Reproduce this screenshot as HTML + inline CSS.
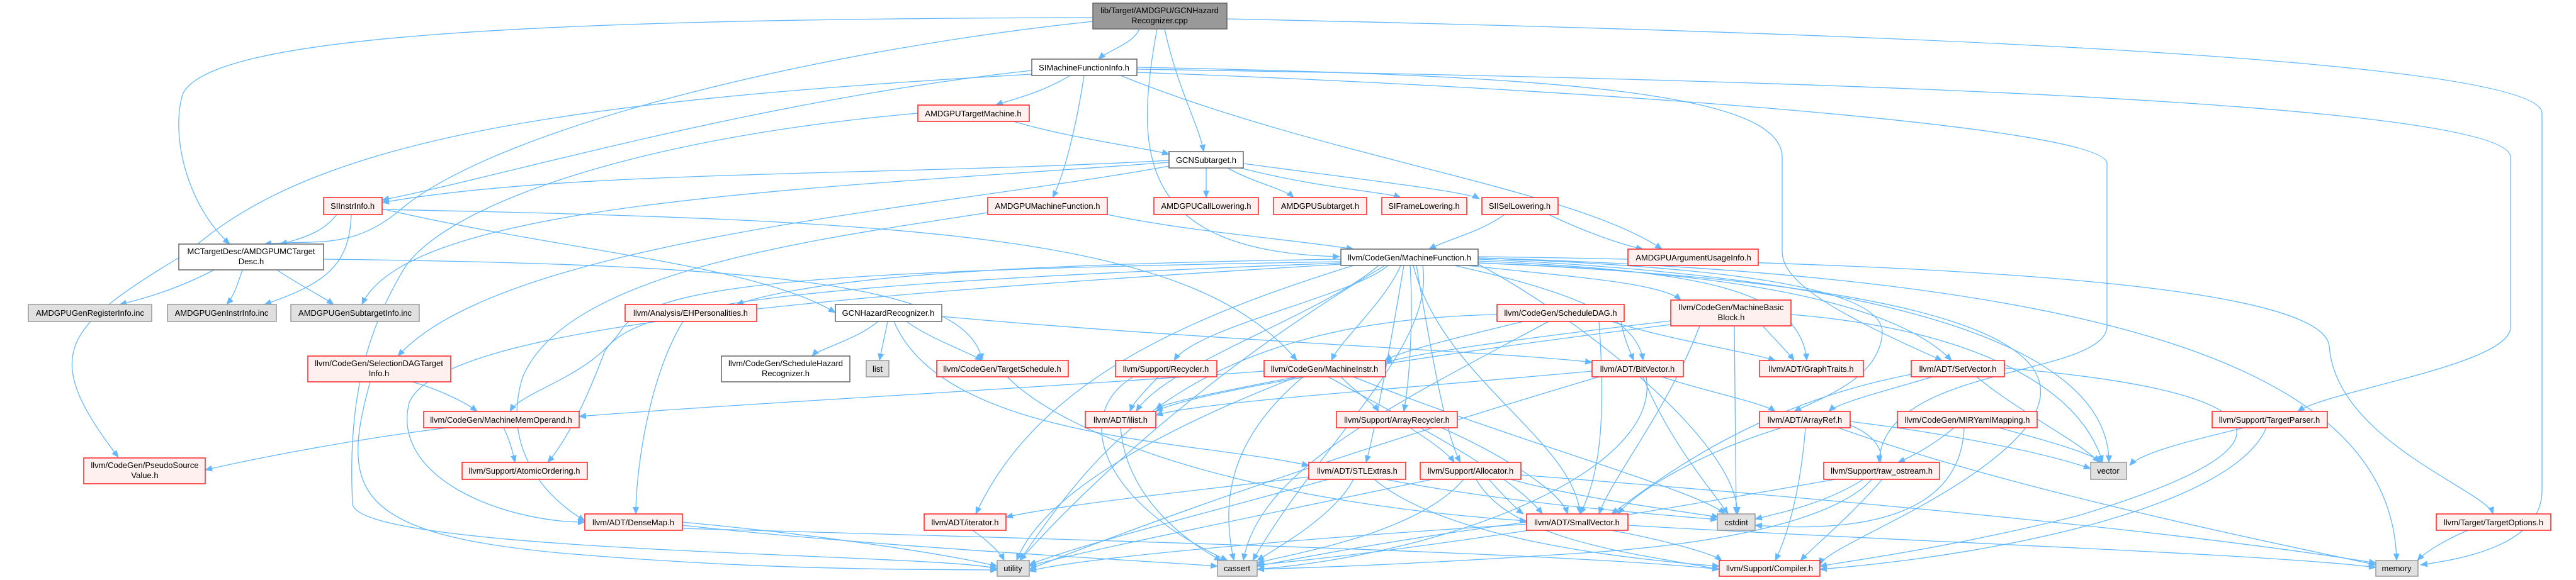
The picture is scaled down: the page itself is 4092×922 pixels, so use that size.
<!DOCTYPE html>
<html><head><meta charset="utf-8"><style>
html,body{margin:0;padding:0;background:#fff;}
svg{display:block}
text{font-family:"Liberation Sans",sans-serif;font-size:13px;fill:#000;text-anchor:middle}
.e{fill:none;stroke:#63b8ff;stroke-width:1.3;marker-end:url(#a)}
.r{fill:#fff0f0;stroke:#ff2020;stroke-width:1.5}
.g{fill:#e0e0e0;stroke:#999;stroke-width:1.5}
.w{fill:#fff;stroke:#666;stroke-width:1.5}
.k{fill:#999;stroke:#666;stroke-width:1.5}
</style></head><body>
<svg width="4092" height="922" viewBox="0 0 4092 922" xmlns="http://www.w3.org/2000/svg">
<defs><marker id="a" markerUnits="userSpaceOnUse" markerWidth="12" markerHeight="10" refX="11" refY="5" orient="auto"><path d="M0,0 L12,5 L0,10 z" fill="#63b8ff"/></marker></defs>
<g>
<path class="e" d="M1810,46 C1800,70 1760,80 1745,94"/>
<path class="e" d="M1850,46 C1870,140 1905,200 1912,241"/>
<path class="e" d="M1838,46 C1800,250 1810,400 2128,408"/>
<path class="e" d="M1736,28 C800,30 330,60 290,150 C270,220 300,330 365,388"/>
<path class="e" d="M1736,34 C1300,80 800,200 640,330 C560,400 500,380 420,388"/>
<path class="e" d="M1949,30 C2900,50 4038,90 4038,180 L4038,780 C4038,870 3900,890 3845,898"/>
<path class="e" d="M1806,110 C2800,125 3988,160 3988,250 L3988,520 C3988,580 3700,620 3650,654"/>
<path class="e" d="M1806,115 C2500,140 3347,200 3347,260 L3347,520 C3340,600 2990,580 2985,735"/>
<path class="e" d="M1806,107 C2500,120 2831,150 2831,250 L2831,400 C2831,450 2920,500 3085,573"/>
<path class="e" d="M1700,120 C1650,150 1600,160 1582,167"/>
<path class="e" d="M1722,120 C1710,200 1690,280 1672,314"/>
<path class="e" d="M1780,120 C2100,250 2500,300 2640,396"/>
<path class="e" d="M1639,112 C1200,160 800,280 607,318"/>
<path class="e" d="M1639,118 C900,160 500,220 300,400 C100,520 60,560 188,727"/>
<path class="e" d="M1916,267 L1916,314"/>
<path class="e" d="M1950,267 C1990,290 2040,300 2055,314"/>
<path class="e" d="M1970,267 C2100,300 2200,305 2225,314"/>
<path class="e" d="M1975,260 C2200,290 2330,305 2350,316"/>
<path class="e" d="M1857,255 C1400,280 900,270 607,322"/>
<path class="e" d="M1857,264 C1500,330 800,380 632,566"/>
<path class="e" d="M1857,258 C1300,300 650,320 575,484"/>
<path class="e" d="M1610,193 C1700,220 1820,235 1857,245"/>
<path class="e" d="M1458,180 C1000,220 700,330 640,430 C600,500 550,600 560,800 C560,880 1500,880 1584,904"/>
<path class="e" d="M1759,341 C1900,370 2050,380 2150,396"/>
<path class="e" d="M1569,338 C1300,380 900,430 830,600 C800,700 850,780 929,828"/>
<path class="e" d="M2390,341 C2350,370 2300,380 2270,396"/>
<path class="e" d="M2460,341 C2520,370 2580,390 2610,396"/>
<path class="e" d="M535,341 C520,360 500,375 445,388"/>
<path class="e" d="M558,341 C555,420 520,450 420,484"/>
<path class="e" d="M607,332 C900,400 1200,420 1327,497"/>
<path class="e" d="M607,333 C1500,350 1900,380 2060,573"/>
<path class="e" d="M340,429 C300,450 250,470 190,484"/>
<path class="e" d="M385,429 C378,450 372,470 360,484"/>
<path class="e" d="M440,429 C470,450 510,470 530,484"/>
<path class="e" d="M514,412 C1200,420 1540,450 1560,573"/>
<path class="e" d="M2130,412 C1600,420 1300,440 1170,484"/>
<path class="e" d="M2130,416 C1300,430 1050,450 990,520 C940,600 830,620 810,654"/>
<path class="e" d="M2130,418 C1300,450 1000,480 960,560 C930,640 900,700 870,735"/>
<path class="e" d="M2130,420 C1300,470 700,520 650,640 C620,760 800,830 929,830"/>
<path class="e" d="M2190,422 C2100,500 1850,580 1805,654"/>
<path class="e" d="M2205,422 C2150,470 1900,520 1865,573"/>
<path class="e" d="M2225,422 C2200,480 2130,540 2115,573"/>
<path class="e" d="M2240,422 C2245,500 2240,600 2230,654"/>
<path class="e" d="M2310,422 C2480,460 2600,500 2610,573"/>
<path class="e" d="M2330,422 C2500,440 2640,450 2670,477"/>
<path class="e" d="M2348,415 C2700,430 2860,460 2870,573"/>
<path class="e" d="M2348,418 C2700,430 3000,470 3100,573"/>
<path class="e" d="M2348,410 C2600,420 2995,440 2990,530 C2985,600 2900,630 2850,654"/>
<path class="e" d="M2245,422 C2290,600 2500,700 2510,817"/>
<path class="e" d="M2348,420 C2500,500 2760,700 2760,817"/>
<path class="e" d="M2348,412 C3000,440 3350,550 3350,735"/>
<path class="e" d="M2348,410 C3400,440 3800,600 3807,891"/>
<path class="e" d="M2348,408 C3300,420 3690,470 3700,550 C3710,700 3950,780 3960,817"/>
<path class="e" d="M2348,418 C3100,450 3350,550 3200,700 C3100,800 2900,870 2891,898"/>
<path class="e" d="M2260,422 C2280,550 2100,700 1990,891"/>
<path class="e" d="M2200,422 C1900,600 1700,800 1620,891"/>
<path class="e" d="M2230,422 C2200,600 2180,700 2170,735"/>
<path class="e" d="M2250,422 C2280,600 2300,700 2320,735"/>
<path class="e" d="M2150,422 C1900,500 1650,600 1550,817"/>
<path class="e" d="M1395,511 C1360,540 1300,555 1290,566"/>
<path class="e" d="M1410,511 L1397,573"/>
<path class="e" d="M1440,511 C1480,540 1540,560 1560,573"/>
<path class="e" d="M1496,503 C1900,540 2400,560 2529,576"/>
<path class="e" d="M1420,511 C1500,700 1900,700 2079,740"/>
<path class="e" d="M1085,511 C1030,600 1010,750 1010,817"/>
<path class="e" d="M655,607 C700,620 740,640 758,654"/>
<path class="e" d="M588,607 C540,780 560,850 900,880 C1200,905 1400,905 1584,906"/>
<path class="e" d="M710,680 C550,700 400,730 326,747"/>
<path class="e" d="M800,680 C810,700 815,720 818,735"/>
<path class="e" d="M2420,511 C2300,540 2220,560 2200,573"/>
<path class="e" d="M2575,511 C2580,540 2590,560 2595,573"/>
<path class="e" d="M2540,511 C2550,650 2545,750 2510,817"/>
<path class="e" d="M2378,500 C1900,510 1750,700 1620,891"/>
<path class="e" d="M2560,511 C2650,540 2780,560 2820,573"/>
<path class="e" d="M2460,511 C2200,650 2000,750 1975,891"/>
<path class="e" d="M2654,510 C2400,540 2260,560 2200,576"/>
<path class="e" d="M2800,518 C2820,540 2840,560 2850,573"/>
<path class="e" d="M2654,516 C2300,560 1900,620 1836,654"/>
<path class="e" d="M2700,518 C2650,650 2560,760 2540,817"/>
<path class="e" d="M2755,518 L2758,817"/>
<path class="e" d="M2845,500 C3100,520 3300,600 3340,735"/>
<path class="e" d="M1600,599 C1700,700 2000,800 2425,828"/>
<path class="e" d="M1840,599 C1820,620 1800,640 1795,654"/>
<path class="e" d="M1800,599 C1700,660 1750,800 1950,891"/>
<path class="e" d="M2060,599 C1950,620 1850,640 1836,650"/>
<path class="e" d="M2130,599 C2150,620 2180,640 2190,654"/>
<path class="e" d="M2070,599 C1950,700 1940,800 1960,891"/>
<path class="e" d="M2060,599 C1800,700 1650,800 1615,891"/>
<path class="e" d="M2150,599 C2400,700 2700,780 2740,817"/>
<path class="e" d="M2110,599 C2200,650 2400,750 2450,817"/>
<path class="e" d="M2008,590 C1600,620 1200,640 920,662"/>
<path class="e" d="M2529,590 C2200,620 1900,640 1836,660"/>
<path class="e" d="M2610,599 C2650,700 2720,780 2745,817"/>
<path class="e" d="M2640,599 C2700,620 2800,640 2820,654"/>
<path class="e" d="M2540,599 C2200,700 1900,800 1635,905"/>
<path class="e" d="M2615,599 C2640,750 2300,880 1997,905"/>
<path class="e" d="M3070,599 C3000,620 2920,640 2905,654"/>
<path class="e" d="M3140,599 C3200,650 3300,700 3335,735"/>
<path class="e" d="M3184,585 C3600,620 3700,700 3300,820 C3100,870 2950,890 2891,900"/>
<path class="e" d="M3036,595 C2800,640 2650,750 2560,817"/>
<path class="e" d="M1780,680 C1790,800 1900,870 1940,891"/>
<path class="e" d="M2240,680 C2270,700 2300,720 2310,735"/>
<path class="e" d="M2290,680 C2380,720 2480,780 2490,817"/>
<path class="e" d="M2830,680 C2700,720 2600,780 2570,817"/>
<path class="e" d="M2868,680 C2860,780 2840,850 2820,891"/>
<path class="e" d="M2920,680 C3200,780 3600,860 3774,898"/>
<path class="e" d="M2939,670 C3100,690 3250,720 3321,745"/>
<path class="e" d="M2939,676 C3050,720 3000,850 2500,880 C2200,900 2050,903 1997,905"/>
<path class="e" d="M3104,680 C3080,700 3050,720 3015,735"/>
<path class="e" d="M3175,680 C3250,700 3320,720 3340,735"/>
<path class="e" d="M3120,680 C3115,800 3000,850 2788,835"/>
<path class="e" d="M3565,680 C3480,700 3400,720 3383,740"/>
<path class="e" d="M3600,680 C3550,800 3200,880 2891,905"/>
<path class="e" d="M2079,758 C1900,780 1700,800 1598,822"/>
<path class="e" d="M2110,762 C1900,820 1700,870 1635,898"/>
<path class="e" d="M2150,762 C2120,820 2030,870 1997,891"/>
<path class="e" d="M2200,762 C2400,800 2600,815 2728,826"/>
<path class="e" d="M2183,762 C2300,860 2600,890 2731,900"/>
<path class="e" d="M2365,762 C2390,790 2410,810 2420,817"/>
<path class="e" d="M2325,762 C2250,850 2050,880 1997,895"/>
<path class="e" d="M2275,762 C2000,820 1700,880 1635,900"/>
<path class="e" d="M2400,762 C2500,790 2650,810 2730,822"/>
<path class="e" d="M2345,762 C2400,860 2600,880 2731,905"/>
<path class="e" d="M2416,755 C3000,800 3500,850 3774,895"/>
<path class="e" d="M2915,762 C2700,800 2300,870 1997,898"/>
<path class="e" d="M2960,762 C2900,800 2830,815 2788,825"/>
<path class="e" d="M2990,762 C2940,820 2880,870 2860,891"/>
<path class="e" d="M1084,830 C1300,850 1500,880 1584,900"/>
<path class="e" d="M1084,835 C1400,870 1800,890 1934,900"/>
<path class="e" d="M1084,840 C1800,860 2500,880 2731,905"/>
<path class="e" d="M1545,843 C1570,860 1590,880 1595,891"/>
<path class="e" d="M2425,830 C2200,860 2050,890 1997,900"/>
<path class="e" d="M2430,833 C2000,860 1700,890 1635,908"/>
<path class="e" d="M2560,843 C2650,860 2720,880 2735,891"/>
<path class="e" d="M2586,835 C3000,860 3600,880 3774,902"/>
<path class="e" d="M3920,843 C3880,860 3850,880 3840,891"/>
</g>
<g>
<rect class="k" x="1736" y="5" width="213" height="41"/><text x="1842" y="21">lib/Target/AMDGPU/GCNHazard</text><text x="1842" y="37">Recognizer.cpp</text>
<rect class="w" x="1639" y="94" width="167" height="26"/><text x="1722" y="112">SIMachineFunctionInfo.h</text>
<rect class="r" x="1458" y="167" width="177" height="26"/><text x="1546" y="185">AMDGPUTargetMachine.h</text>
<rect class="w" x="1857" y="241" width="118" height="26"/><text x="1916" y="259">GCNSubtarget.h</text>
<rect class="r" x="514" y="314" width="93" height="27"/><text x="560" y="332">SIInstrInfo.h</text>
<rect class="r" x="1569" y="314" width="190" height="27"/><text x="1664" y="332">AMDGPUMachineFunction.h</text>
<rect class="r" x="1833" y="314" width="166" height="27"/><text x="1916" y="332">AMDGPUCallLowering.h</text>
<rect class="r" x="2023" y="314" width="148" height="27"/><text x="2097" y="332">AMDGPUSubtarget.h</text>
<rect class="r" x="2195" y="314" width="135" height="27"/><text x="2262" y="332">SIFrameLowering.h</text>
<rect class="r" x="2354" y="314" width="121" height="27"/><text x="2414" y="332">SIISelLowering.h</text>
<rect class="w" x="284" y="388" width="230" height="41"/><text x="399" y="404">MCTargetDesc/AMDGPUMCTarget</text><text x="399" y="420">Desc.h</text>
<rect class="w" x="2130" y="396" width="218" height="26"/><text x="2239" y="414">llvm/CodeGen/MachineFunction.h</text>
<rect class="r" x="2586" y="396" width="207" height="26"/><text x="2690" y="414">AMDGPUArgumentUsageInfo.h</text>
<rect class="g" x="45" y="484" width="196" height="27"/><text x="143" y="502">AMDGPUGenRegisterInfo.inc</text>
<rect class="g" x="266" y="484" width="173" height="27"/><text x="352" y="502">AMDGPUGenInstrInfo.inc</text>
<rect class="g" x="462" y="484" width="204" height="27"/><text x="564" y="502">AMDGPUGenSubtargetInfo.inc</text>
<rect class="r" x="993" y="484" width="209" height="27"/><text x="1097" y="502">llvm/Analysis/EHPersonalities.h</text>
<rect class="w" x="1327" y="484" width="169" height="27"/><text x="1411" y="502">GCNHazardRecognizer.h</text>
<rect class="r" x="2378" y="484" width="202" height="27"/><text x="2479" y="502">llvm/CodeGen/ScheduleDAG.h</text>
<rect class="r" x="2654" y="477" width="191" height="41"/><text x="2750" y="493">llvm/CodeGen/MachineBasic</text><text x="2750" y="509">Block.h</text>
<rect class="r" x="489" y="566" width="227" height="41"/><text x="602" y="582">llvm/CodeGen/SelectionDAGTarget</text><text x="602" y="598">Info.h</text>
<rect class="w" x="1146" y="566" width="204" height="41"/><text x="1248" y="582">llvm/CodeGen/ScheduleHazard</text><text x="1248" y="598">Recognizer.h</text>
<rect class="g" x="1376" y="573" width="36" height="26"/><text x="1394" y="591">list</text>
<rect class="r" x="1488" y="573" width="209" height="26"/><text x="1592" y="591">llvm/CodeGen/TargetSchedule.h</text>
<rect class="r" x="1772" y="573" width="161" height="26"/><text x="1852" y="591">llvm/Support/Recycler.h</text>
<rect class="r" x="2008" y="573" width="193" height="26"/><text x="2104" y="591">llvm/CodeGen/MachineInstr.h</text>
<rect class="r" x="2529" y="573" width="145" height="26"/><text x="2601" y="591">llvm/ADT/BitVector.h</text>
<rect class="r" x="2795" y="573" width="165" height="26"/><text x="2877" y="591">llvm/ADT/GraphTraits.h</text>
<rect class="r" x="3036" y="573" width="148" height="26"/><text x="3110" y="591">llvm/ADT/SetVector.h</text>
<rect class="r" x="673" y="654" width="247" height="26"/><text x="796" y="672">llvm/CodeGen/MachineMemOperand.h</text>
<rect class="r" x="1724" y="654" width="112" height="26"/><text x="1780" y="672">llvm/ADT/ilist.h</text>
<rect class="r" x="2123" y="654" width="192" height="26"/><text x="2219" y="672">llvm/Support/ArrayRecycler.h</text>
<rect class="r" x="2795" y="654" width="144" height="26"/><text x="2867" y="672">llvm/ADT/ArrayRef.h</text>
<rect class="r" x="3014" y="654" width="222" height="26"/><text x="3125" y="672">llvm/CodeGen/MIRYamlMapping.h</text>
<rect class="r" x="3514" y="654" width="183" height="26"/><text x="3605" y="672">llvm/Support/TargetParser.h</text>
<rect class="r" x="133" y="728" width="193" height="41"/><text x="230" y="744">llvm/CodeGen/PseudoSource</text><text x="230" y="760">Value.h</text>
<rect class="r" x="734" y="735" width="199" height="27"/><text x="833" y="753">llvm/Support/AtomicOrdering.h</text>
<rect class="r" x="2079" y="735" width="154" height="27"/><text x="2156" y="753">llvm/ADT/STLExtras.h</text>
<rect class="r" x="2256" y="735" width="160" height="27"/><text x="2336" y="753">llvm/Support/Allocator.h</text>
<rect class="r" x="2897" y="735" width="184" height="27"/><text x="2989" y="753">llvm/Support/raw_ostream.h</text>
<rect class="g" x="3321" y="735" width="57" height="27"/><text x="3349" y="753">vector</text>
<rect class="r" x="929" y="817" width="155" height="26"/><text x="1006" y="835">llvm/ADT/DenseMap.h</text>
<rect class="r" x="1468" y="817" width="130" height="26"/><text x="1533" y="835">llvm/ADT/iterator.h</text>
<rect class="r" x="2425" y="817" width="161" height="26"/><text x="2505" y="835">llvm/ADT/SmallVector.h</text>
<rect class="g" x="2728" y="817" width="60" height="26"/><text x="2758" y="835">cstdint</text>
<rect class="r" x="3870" y="817" width="182" height="26"/><text x="3961" y="835">llvm/Target/TargetOptions.h</text>
<rect class="g" x="1584" y="891" width="51" height="25"/><text x="1609" y="908">utility</text>
<rect class="g" x="1934" y="891" width="63" height="25"/><text x="1965" y="908">cassert</text>
<rect class="r" x="2731" y="891" width="160" height="25"/><text x="2811" y="908">llvm/Support/Compiler.h</text>
<rect class="g" x="3774" y="891" width="67" height="25"/><text x="3807" y="908">memory</text>
</g>
</svg>
</body></html>
